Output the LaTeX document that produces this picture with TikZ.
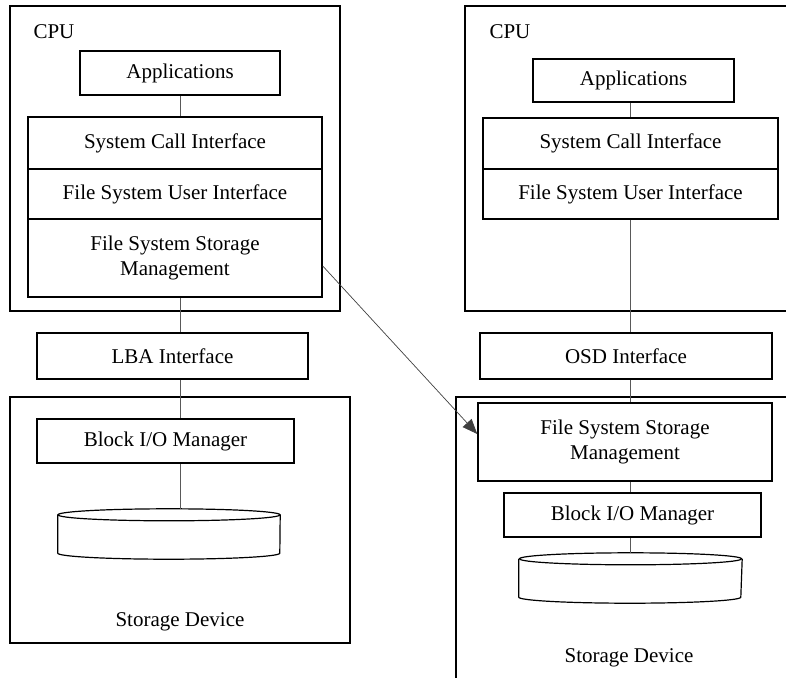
\documentclass[tikz,border=0pt]{standalone}
\usepackage{fontspec}
\setmainfont{Liberation Serif}
\usetikzlibrary{arrows.meta}
\tikzstyle{layer box} = [draw,line width=1.5pt,inner sep=0pt,align=center]
\tikzstyle{frame box} = [draw,line width=1.5pt,inner sep=0pt]
\tikzstyle{link}      = [draw=black!65,line width=1pt]

\begin{document}
\begin{tikzpicture}[x=1pt,y=-1pt,font=\fontsize{21}{25}\selectfont]
    \useasboundingbox (0,0) rectangle (786,677);
    \clip (0,0) rectangle (786,677);

    % Left: block interface
    \node(cpuL)[frame box, minimum width=330pt, minimum height=305pt] at (175,158.5) {};
    \node[anchor=west] at (30,32) {CPU};
    \node(appL)[layer box, minimum width=200pt, minimum height=44pt] at (180,73) {Applications};
    \node(sciL)[layer box, minimum width=294pt, minimum height=52pt] at (175,143) {System Call Interface};
    \node(fsuiL)[layer box, minimum width=294pt, minimum height=50pt] at (175,194) {File System User Interface};
    \node(fssmL)[layer box, minimum width=294pt, minimum height=78pt] at (175,258) {File System Storage\\Management};
    \node(lba)[layer box, minimum width=271pt, minimum height=46pt] at (172.5,356) {LBA Interface};
    \node(devL)[frame box, minimum width=340pt, minimum height=246pt] at (180,520) {};
    \node(blkL)[layer box, minimum width=257pt, minimum height=44pt] at (165.5,441) {Block I/O Manager};
    \node(diskL)[minimum width=222pt, minimum height=50pt, inner sep=0pt] at (169,534) {};
    \node at (180,622) {Storage Device};

    % Right: object interface
    \node(cpuR)[frame box, minimum width=435pt, minimum height=305pt] at (682.5,158.5) {};
    \node[anchor=west] at (486,32) {CPU};
    \node(appR)[layer box, minimum width=201pt, minimum height=43pt] at (633.5,80.5) {Applications};
    \node(sciR)[layer box, minimum width=295pt, minimum height=51pt] at (630.5,143.5) {System Call Interface};
    \node(fsuiR)[layer box, minimum width=295pt, minimum height=50pt] at (630.5,194) {File System User Interface};
    \node(osd)[layer box, minimum width=292pt, minimum height=46pt] at (626,356) {OSD Interface};
    \node(devR)[frame box, minimum width=444pt, minimum height=323pt] at (678,558.5) {};
    \node(fssmR)[layer box, minimum width=294pt, minimum height=78pt] at (625,442) {File System Storage\\Management};
    \node(blkR)[layer box, minimum width=257pt, minimum height=44pt] at (632.5,515) {Block I/O Manager};
    \node(diskR)[minimum width=223pt, minimum height=50pt, inner sep=0pt] at (630.5,578) {};
    \node at (629,658) {Storage Device};

    % Disks
    \foreach \d in {diskL,diskR}{
        \draw[line width=1.2pt] ([yshift=-6pt]\d.north west) -- ([yshift=6pt]\d.south west)
            arc[start angle=180, end angle=360, x radius=111pt, y radius=6pt]
            -- ([yshift=-6pt]\d.north east);
        \draw[line width=1.2pt, fill=white] ([yshift=-6pt]\d.north) ellipse [x radius=111pt, y radius=6pt];
    }

    % Links on the left
    \draw[link] (appL.south) -- (appL.south |- sciL.north);
    \draw[link] (fssmL.south -| appL) -- (lba.north -| appL);
    \draw[link] (lba.south -| appL) -- (blkL.north -| appL);
    \draw[link] (blkL.south -| appL) -- (diskL.north -| appL);

    % Links on the right
    \draw[link] (appR.south -| sciR) -- (sciR.north);
    \draw[link] (fsuiR.south) -- (osd.north -| sciR);
    \draw[link] (osd.south -| sciR) -- (fssmR.north -| sciR);
    \draw[link] (fssmR.south -| sciR) -- (blkR.north -| sciR);
    \draw[link] (blkR.south -| sciR) -- (diskR.north -| sciR);

    % Storage management moves into the device
    \draw[draw=black!75, line width=0.7pt, -{Triangle[length=15pt,width=12pt]}]
        ([yshift=-8pt]fssmL.east) -- ([yshift=8pt]fssmR.west);
\end{tikzpicture}
\end{document}
